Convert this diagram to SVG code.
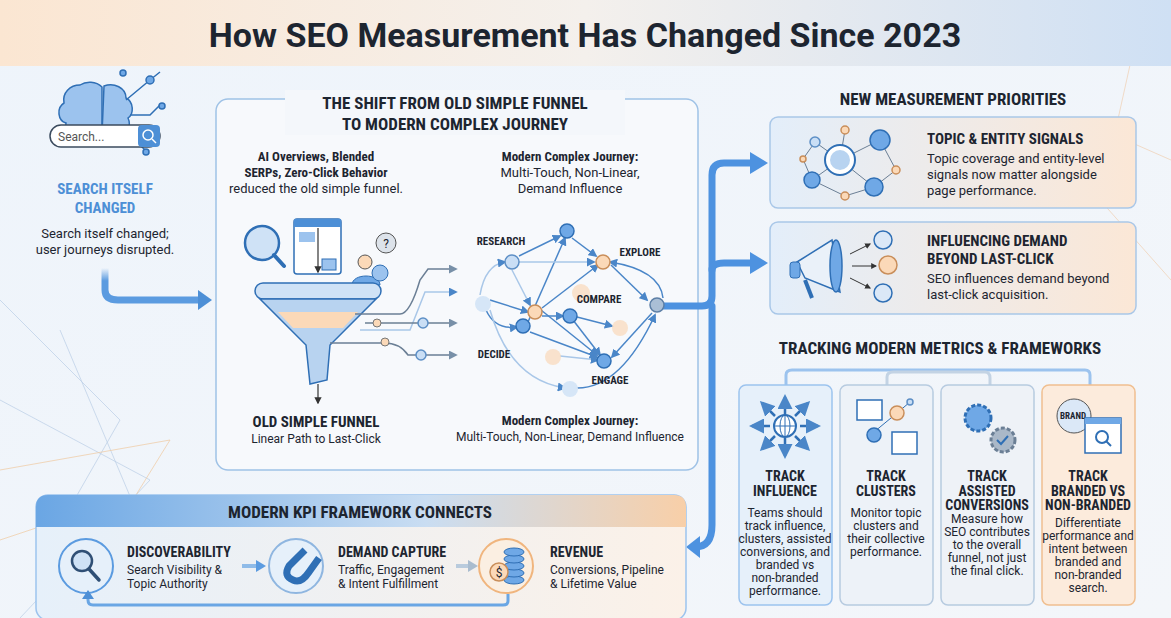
<svg xmlns="http://www.w3.org/2000/svg" width="1171" height="618" viewBox="0 0 1171 618">
<defs>
<linearGradient id="bg" x1="0" y1="0" x2="1" y2="1"><stop offset="0" stop-color="#eef4fb"/><stop offset="1" stop-color="#f3f6fa"/></linearGradient>
<linearGradient id="hdr" x1="0" y1="0" x2="1" y2="0"><stop offset="0" stop-color="#fbe6d2"/><stop offset="0.5" stop-color="#f4f0ec"/><stop offset="1" stop-color="#cfe0f4"/></linearGradient>
<linearGradient id="card" x1="0" y1="0" x2="1" y2="0"><stop offset="0" stop-color="#e3eefa"/><stop offset="1" stop-color="#fbe7d6"/></linearGradient>
<linearGradient id="kpih" x1="0" y1="0" x2="1" y2="0"><stop offset="0" stop-color="#6aa6e4"/><stop offset="0.6" stop-color="#c9ddf2"/><stop offset="1" stop-color="#f8cfa8"/></linearGradient>
<linearGradient id="kpib" x1="0" y1="0" x2="1" y2="0"><stop offset="0" stop-color="#e6f0fa"/><stop offset="1" stop-color="#fbf1e8"/></linearGradient>
<linearGradient id="fadeA" x1="0" y1="0" x2="0" y2="1"><stop offset="0" stop-color="#5b9be0" stop-opacity="0"/><stop offset="0.4" stop-color="#5b9be0"/></linearGradient>
<marker id="ah" viewBox="0 0 10 10" refX="8" refY="5" markerWidth="6" markerHeight="6" orient="auto"><path d="M0,0L10,5L0,10z" fill="#4a86c8"/></marker>
<marker id="ahg" viewBox="0 0 10 10" refX="8" refY="5" markerWidth="6" markerHeight="6" orient="auto"><path d="M0,0L10,5L0,10z" fill="#7890a8"/></marker>
<marker id="ahd" viewBox="0 0 10 10" refX="8" refY="5" markerWidth="6" markerHeight="6" orient="auto"><path d="M0,0L10,5L0,10z" fill="#333"/></marker>
</defs>
<style>
text{font-family:"Roboto","Liberation Sans",sans-serif;fill:#1d2530}
.h{font-weight:700;font-stretch:condensed}
.t{font-size:17px;font-weight:700}
.b{font-size:13px}
.s{font-size:12px}
.c{text-anchor:middle}
.bl{fill:#4d8fd6}
.nb{fill:#6fa8e6;stroke:#2f6fb5;stroke-width:1.5}
.nl{fill:#c9def5;stroke:#5d8fc6;stroke-width:1.5}
.no{fill:#fbd9b8;stroke:#c98e5a;stroke-width:1.5}
.nf{fill:#f9dcc0;opacity:.8}
.ln{stroke:#4a86c8;stroke-width:1.5;fill:none}
.lf{stroke:#a9c7e8;stroke-width:1.5;fill:none}
.big{stroke:#4d92e0;stroke-width:7;fill:none;stroke-linecap:round;stroke-linejoin:round}
.box{fill:#f7f9fc;stroke:#9fc2e6;stroke-width:1.5}
</style>
<rect width="1171" height="618" fill="url(#bg)"/>
<g stroke="#b9cde6" stroke-width="1" fill="none" opacity=".7">
<path d="M0,300L120,420L40,560M0,400L150,480L20,618M60,330L140,520"/>
<path d="M1140,20L1100,200L1171,280M1080,120L1171,160" stroke="#efcfb0"/>
</g>
<g stroke="#f0c9a0" stroke-width="1" fill="none" opacity=".7"><path d="M0,470L170,440L60,618M0,540L120,500"/></g>
<rect width="1171" height="66" fill="url(#hdr)"/>
<text x="585" y="47" class="c" style="font-size:34px;font-weight:700">How SEO Measurement Has Changed Since 2023</text>

<g id="search-changed">
<g stroke="#2f6fb5" stroke-width="1.5" fill="#9cc3ee">
<path d="M80,85c-10,0-18,8-16,18c-8,5-6,18,2,20c-2,10,6,18,16,16c4,8,16,8,20,0l0-52c-6-6-16-6-22-2z"/>
<path d="M104,86c10-4,22,2,22,12c8,4,8,16,2,20c4,8-2,18-12,18c-4,8-14,6-14,-2z"/>
</g>
<g stroke="#2f6fb5" stroke-width="1.5" fill="#6fa8e6"><path d="M126,100L150,80L160,72M130,115L150,115L160,105M125,130L145,150" fill="none"/><circle cx="123" cy="73" r="3"/><circle cx="150" cy="80" r="4"/><circle cx="162" cy="106" r="3"/><circle cx="146" cy="152" r="3"/></g>
<rect x="50" y="125" width="110" height="22" rx="11" fill="#fff" stroke="#3b4b5e" stroke-width="1.5"/>
<rect x="138" y="125" width="22" height="22" rx="4" fill="#4d8fd6"/>
<circle cx="148" cy="135" r="5" fill="none" stroke="#fff" stroke-width="1.5"/><path d="M152,139l4,4" stroke="#fff" stroke-width="1.5"/>
<text x="58" y="141" class="s" style="fill:#555">Search...</text>
<text x="105" y="194" class="c h bl" style="font-size:15px">SEARCH ITSELF</text>
<text x="105" y="213" class="c h bl" style="font-size:15px">CHANGED</text>
<text x="105" y="238" class="c b">Search itself changed;</text>
<text x="105" y="254" class="c b">user journeys disrupted.</text>
</g>

<g id="shift-box">
<rect x="216" y="99" width="482" height="371" rx="12" class="box"/>
<rect x="285" y="90" width="340" height="45" fill="#f4f7fb"/>
<text x="455" y="109" class="c t h">THE SHIFT FROM OLD SIMPLE FUNNEL</text>
<text x="455" y="130" class="c t h">TO MODERN COMPLEX JOURNEY</text>
<text x="316" y="161" class="c h" style="font-size:13px">AI Overviews, Blended</text>
<text x="316" y="177" class="c h" style="font-size:13px">SERPs, Zero-Click Behavior</text>
<text x="316" y="193" class="c b">reduced the old simple funnel.</text>
<text x="570" y="161" class="c h" style="font-size:13px">Modern Complex Journey:</text>
<text x="570" y="177" class="c b">Multi-Touch, Non-Linear,</text>
<text x="570" y="193" class="c b">Demand Influence</text>
</g>

<g id="funnel">
<circle cx="262" cy="243" r="17" fill="#cfe2f6" stroke="#2f6fb5" stroke-width="2.5"/><path d="M274,255l10,11" stroke="#2f6fb5" stroke-width="4" stroke-linecap="round"/>
<rect x="294" y="219" width="47" height="55" rx="3" fill="#fff" stroke="#2f6fb5" stroke-width="1.5"/><rect x="294" y="219" width="47" height="8" fill="#4d8fd6"/>
<rect x="299" y="232" width="16" height="10" fill="#9cc3ee"/><rect x="322" y="259" width="14" height="11" fill="#9cc3ee" stroke="#2f6fb5"/>
<circle cx="365" cy="262" r="7" fill="#fbd9b8" stroke="#555"/><path d="M352,285c0-12,28-12,28,0z" fill="#6fa8e6" stroke="#2f6fb5"/>
<circle cx="380" cy="273" r="8" fill="#9cc3ee" stroke="#2f6fb5"/><circle cx="386" cy="243" r="10" fill="#dde3ea" stroke="#555"/><text x="386" y="248" class="c s">?</text>
<rect x="255" y="283" width="126" height="16" rx="8" fill="#cfe2f6" stroke="#2f6fb5" stroke-width="1.5"/>
<path d="M260,299L376,299L330,345L327,380L310,384L306,345z" fill="#b8d3f0" stroke="#2f6fb5" stroke-width="1.5"/>
<path d="M278,312L358,312L343,328L293,328z" fill="#fbd9b8"/>
<path d="M318,228L318,272" stroke="#333" stroke-width="1.2" marker-end="url(#ahd)"/>
<path d="M318,384L318,403" stroke="#333" stroke-width="1.2" marker-end="url(#ahd)"/>
<text x="316" y="427" class="c h" style="font-size:15px">OLD SIMPLE FUNNEL</text>
<text x="316" y="443" class="c s">Linear Path to Last-Click</text>
</g>

<g id="connectors">
<path d="M105,268L105,290Q105,300 118,300L200,300" stroke="url(#fadeA)" stroke-width="7" fill="none"/>
<path d="M198,290L212,300L198,310z" fill="#4d8fd6"/>
<path d="M355,314L400,314Q410,314 420,280L428,269L456,269" stroke="#6b7f95" stroke-width="1.5" fill="none" marker-end="url(#ahg)"/>
<path d="M360,330L410,330L425,292L456,292" class="lf" marker-end="url(#ah)"/>
<path d="M365,323L456,323" stroke="#6b7f95" stroke-width="1.5" fill="none" marker-end="url(#ahg)"/>
<circle cx="377" cy="323" r="4" fill="#fbd9b8" stroke="#777"/><circle cx="423" cy="323" r="5" class="nl"/>
<path d="M330,343L384,343Q400,343 408,355L456,355" stroke="#6b7f95" stroke-width="1.5" fill="none" marker-end="url(#ahg)"/>
<circle cx="385" cy="342" r="4" fill="#fbd9b8" stroke="#777"/><circle cx="421" cy="355" r="5" class="nl"/>
<path d="M660,306L702,306M702,306Q712,306 712,296L712,175Q712,163 724,163L752,163" class="big"/>
<path d="M712,270Q712,263 724,263L752,263" class="big"/>
<path d="M712,306L712,525Q712,547 695,547" class="big"/>
<path d="M750,152L768,163L750,174z" fill="#4d92e0"/><path d="M750,252L768,263L750,274z" fill="#4d92e0"/>
<path d="M700,536L686,547L700,558z" fill="#4d92e0"/>
</g>

<g id="network">
<g class="ln" marker-end="url(#ah)">
<path d="M519,256L560,236"/><path d="M572,238L596,256"/><path d="M611,265L647,300"/><path d="M490,300L528,312"/><path d="M542,308L598,265"/>
<path d="M542,316L563,316"/><path d="M577,317L612,326"/><path d="M528,322L565,238"/><path d="M530,332L597,357"/><path d="M541,310L597,355"/><path d="M652,313L612,357"/><path d="M486,310Q495,330 517,327"/><path d="M573,320L600,355"/>
<path d="M663,298Q660,270 610,262"/><path d="M575,388Q620,390 655,315"/>
</g>
<g class="lf" marker-end="url(#ah)"><path d="M519,262L594,262"/><path d="M512,270L530,305"/><path d="M480,295Q485,265 505,262"/><path d="M490,310Q510,380 565,388"/><path d="M560,356L598,360"/></g>
<circle cx="512" cy="262" r="7" class="nl"/><circle cx="567" cy="231" r="7" class="nb"/><circle cx="603" cy="262" r="7" class="no"/>
<circle cx="483" cy="304" r="8" fill="#d6e6f7"/><circle cx="535" cy="312" r="7" class="no"/><circle cx="581" cy="293" r="9" class="nf"/>
<circle cx="570" cy="316" r="7" class="nb"/><circle cx="657" cy="305" r="7" fill="#aabfd6" stroke="#5d7fa6" stroke-width="1.5"/>
<circle cx="620" cy="328" r="8" class="nf"/><circle cx="523" cy="326" r="7" class="nb"/><circle cx="553" cy="357" r="8" class="nf"/>
<circle cx="604" cy="361" r="7" class="nb"/><circle cx="570" cy="389" r="8" fill="#d6e6f7"/>
<text x="501" y="245" class="c h" style="font-size:11px">RESEARCH</text>
<text x="640" y="256" class="c h" style="font-size:11px">EXPLORE</text>
<text x="599" y="303" class="c h" style="font-size:11px">COMPARE</text>
<text x="494" y="358" class="c h" style="font-size:11px">DECIDE</text>
<text x="610" y="384" class="c h" style="font-size:11px">ENGAGE</text>
<text x="570" y="425" class="c h" style="font-size:13px">Modern Complex Journey:</text>
<text x="570" y="441" class="c s">Multi-Touch, Non-Linear, Demand Influence</text>
</g>

<g id="priorities">
<text x="953" y="105" class="c t h">NEW MEASUREMENT PRIORITIES</text>
<rect x="770" y="117" width="366" height="91" rx="8" fill="url(#card)" stroke="#a9c7e8" stroke-width="1.5"/>
<g stroke="#6b7f95" stroke-width="1" fill="none"><path d="M815,142L840,160L880,140M840,160L812,180M840,160L874,187L896,170M874,187L845,196L812,180L803,159M840,160L845,130M815,142L803,159M880,140L896,170"/></g>
<circle cx="840" cy="160" r="15" fill="#fff" stroke="#2f6fb5" stroke-width="2"/><circle cx="840" cy="160" r="10" fill="#b8d3f0"/>
<circle cx="880" cy="140" r="10" class="nb"/><circle cx="812" cy="180" r="8" class="nb"/><circle cx="874" cy="187" r="9" class="nb"/><circle cx="815" cy="142" r="5" class="nl"/><circle cx="845" cy="130" r="4" class="no"/><circle cx="896" cy="170" r="4" class="no"/><circle cx="845" cy="196" r="4" class="no"/><circle cx="803" cy="159" r="3" class="no"/>
<text x="927" y="144" class="h" style="font-size:15px">TOPIC &amp; ENTITY SIGNALS</text>
<text x="927" y="163" class="b">Topic coverage and entity-level</text>
<text x="927" y="179" class="b">signals now matter alongside</text>
<text x="927" y="195" class="b">page performance.</text>
<rect x="770" y="222" width="366" height="92" rx="8" fill="url(#card)" stroke="#a9c7e8" stroke-width="1.5"/>
<path d="M797,262L832,240L840,292L805,278z" fill="#eaf1f9" stroke="#2f6fb5" stroke-width="1.5"/>
<ellipse cx="836" cy="266" rx="6" ry="26" fill="#6fa8e6" stroke="#2f6fb5" stroke-width="1.5"/>
<rect x="790" y="262" width="10" height="16" rx="3" fill="#6fa8e6" stroke="#2f6fb5"/><path d="M805,280L812,298" stroke="#2f6fb5" stroke-width="4"/>
<g stroke="#333" stroke-width="1" marker-end="url(#ahd)"><path d="M850,254L870,244"/><path d="M852,266L876,266"/><path d="M850,278L870,288"/></g>
<circle cx="883" cy="240" r="9" fill="#dbe8f7" stroke="#2f6fb5" stroke-width="1.5"/><circle cx="888" cy="265" r="9" fill="#fbd9b8" stroke="#c98e5a" stroke-width="1.5"/><circle cx="883" cy="293" r="9" fill="#dbe8f7" stroke="#2f6fb5" stroke-width="1.5"/>
<text x="927" y="246" class="h" style="font-size:15px">INFLUENCING DEMAND</text>
<text x="927" y="264" class="h" style="font-size:15px">BEYOND LAST-CLICK</text>
<text x="927" y="283" class="b">SEO influences demand beyond</text>
<text x="927" y="299" class="b">last-click acquisition.</text>
</g>

<g id="tracking">
<text x="940" y="354" class="c t h">TRACKING MODERN METRICS &amp; FRAMEWORKS</text>
<path d="M786,385L786,375Q786,370 792,370L1085,370Q1090,370 1090,375L1090,385" stroke="#9cc3ee" stroke-width="3" fill="none"/>
<path d="M887,385L887,377Q887,372 893,372L985,372Q990,372 990,378L990,385" stroke="#c3d3e4" stroke-width="3" fill="none"/>
<rect x="739" y="385" width="93" height="220" rx="7" fill="#e6f0fa" stroke="#9cc3ee" stroke-width="1.5"/>
<rect x="840" y="385" width="93" height="220" rx="7" fill="#edf2f8" stroke="#b7cbe0" stroke-width="1.5"/>
<rect x="941" y="385" width="93" height="220" rx="7" fill="#eef2f7" stroke="#b7cbe0" stroke-width="1.5"/>
<rect x="1042" y="385" width="93" height="220" rx="7" fill="#fcebdc" stroke="#f0bf90" stroke-width="1.5"/>
<g stroke="#2f6fb5" stroke-width="2.5" marker-end="url(#ah)"><path d="M785,415L785,397"/><path d="M785,438L785,456"/><path d="M770,426L752,426"/><path d="M800,426L818,426"/><path d="M775,416L762,403"/><path d="M795,416L808,403"/><path d="M775,436L762,449"/><path d="M795,436L808,449"/></g>
<circle cx="785" cy="426" r="11" fill="#fff" stroke="#2f6fb5" stroke-width="2"/><path d="M774,426h22M785,415v22" stroke="#2f6fb5"/><ellipse cx="785" cy="426" rx="5" ry="11" fill="none" stroke="#2f6fb5"/>
<rect x="857" y="400" width="25" height="20" fill="#fff" stroke="#2f6fb5" stroke-width="1.5"/><rect x="892" y="432" width="25" height="22" fill="#fff" stroke="#2f6fb5" stroke-width="1.5"/>
<path d="M874,432L897,413L910,402" stroke="#2f6fb5" fill="none"/><circle cx="897" cy="413" r="7" class="no"/><circle cx="874" cy="435" r="7" class="nb"/><circle cx="910" cy="402" r="3" class="nl"/>
<circle cx="978" cy="418" r="13" fill="#6fa8e6" stroke="#2f6fb5" stroke-width="3" stroke-dasharray="4 2"/><circle cx="1003" cy="440" r="12" fill="#aab8c8" stroke="#6b7f95" stroke-width="3" stroke-dasharray="4 2"/>
<path d="M997,440l4,4l7,-8" stroke="#2f6fb5" stroke-width="2" fill="none"/>
<circle cx="1074" cy="416" r="17" fill="#dbe8f7" stroke="#555"/><text x="1073" y="419" class="c h" style="font-size:9px">BRAND</text>
<rect x="1085" y="418" width="36" height="35" fill="#fff" stroke="#2f6fb5" stroke-width="1.5"/><rect x="1085" y="418" width="36" height="6" fill="#6fa8e6"/>
<circle cx="1102" cy="437" r="6" fill="none" stroke="#2f6fb5" stroke-width="2"/><path d="M1106,441l5,5" stroke="#2f6fb5" stroke-width="2"/>
<g style="font-size:14px">
<text x="785" y="481" class="c h">TRACK</text><text x="785" y="496" class="c h">INFLUENCE</text>
<text x="886" y="481" class="c h">TRACK</text><text x="886" y="496" class="c h">CLUSTERS</text>
<text x="987" y="481" class="c h">TRACK</text><text x="987" y="496" class="c h">ASSISTED</text><text x="987" y="510" class="c h">CONVERSIONS</text>
<text x="1088" y="481" class="c h">TRACK</text><text x="1088" y="496" class="c h">BRANDED VS</text><text x="1088" y="510" class="c h">NON-BRANDED</text>
</g>
<g>
<text x="785" y="517" class="c s">Teams should</text><text x="785" y="530" class="c s">track influence,</text><text x="785" y="543" class="c s">clusters, assisted</text><text x="785" y="556" class="c s">conversions, and</text><text x="785" y="569" class="c s">branded vs</text><text x="785" y="582" class="c s">non-branded</text><text x="785" y="595" class="c s">performance.</text>
<text x="886" y="517" class="c s">Monitor topic</text><text x="886" y="530" class="c s">clusters and</text><text x="886" y="543" class="c s">their collective</text><text x="886" y="556" class="c s">performance.</text>
<text x="987" y="523" class="c s">Measure how</text><text x="987" y="536" class="c s">SEO contributes</text><text x="987" y="549" class="c s">to the overall</text><text x="987" y="562" class="c s">funnel, not just</text><text x="987" y="575" class="c s">the final click.</text>
<text x="1088" y="527" class="c s">Differentiate</text><text x="1088" y="540" class="c s">performance and</text><text x="1088" y="553" class="c s">intent between</text><text x="1088" y="566" class="c s">branded and</text><text x="1088" y="579" class="c s">non-branded</text><text x="1088" y="592" class="c s">search.</text>
</g>
</g>

<g id="kpi">
<rect x="36" y="495" width="650" height="125" rx="12" fill="url(#kpib)" stroke="#9cc3ee" stroke-width="1.5"/>
<path d="M48,495L674,495Q686,495 686,507L686,527L36,527L36,507Q36,495 48,495z" fill="url(#kpih)"/>
<text x="360" y="518" class="c t h">MODERN KPI FRAMEWORK CONNECTS</text>
<circle cx="86" cy="566" r="27" fill="#e6f0fa" stroke="#5b9be0" stroke-width="2"/>
<circle cx="82" cy="561" r="10" fill="#cfe2f6" stroke="#2f4f75" stroke-width="2.5"/><path d="M89,569l10,11" stroke="#2f4f75" stroke-width="3.5" stroke-linecap="round"/>
<circle cx="296" cy="566" r="27" fill="#e6f0fa" stroke="#8fb6e0" stroke-width="2"/>
<path d="M305,550L289,566Q283,576 293,580Q301,584 309,572L319,558" stroke="#2f6fb5" stroke-width="7" fill="none"/>
<circle cx="506" cy="566" r="27" fill="#fbefe2" stroke="#f0b57e" stroke-width="2"/>
<g fill="#6fa8e6" stroke="#2f6fb5"><ellipse cx="514" cy="580" rx="10" ry="4"/><ellipse cx="514" cy="573" rx="10" ry="4"/><ellipse cx="514" cy="566" rx="10" ry="4"/><ellipse cx="514" cy="559" rx="10" ry="4"/><ellipse cx="514" cy="552" rx="10" ry="4"/></g>
<circle cx="499" cy="572" r="9" fill="#fbd9b8" stroke="#c98e5a" stroke-width="1.5"/><text x="499" y="577" class="c s">$</text>
<text x="127" y="557" class="h" style="font-size:14px">DISCOVERABILITY</text>
<text x="127" y="574" class="s">Search Visibility &amp;</text><text x="127" y="588" class="s">Topic Authority</text>
<text x="338" y="557" class="h" style="font-size:14px">DEMAND CAPTURE</text>
<text x="338" y="574" class="s">Traffic, Engagement</text><text x="338" y="588" class="s">&amp; Intent Fulfillment</text>
<text x="550" y="557" class="h" style="font-size:14px">REVENUE</text>
<text x="550" y="574" class="s">Conversions, Pipeline</text><text x="550" y="588" class="s">&amp; Lifetime Value</text>
<path d="M242,566L258,566" stroke="#8fbbe8" stroke-width="4"/><path d="M256,560L266,566L256,572z" fill="#5b9be0"/>
<path d="M456,566L470,566" stroke="#b9cbdd" stroke-width="4"/><path d="M468,560L478,566L468,572z" fill="#a9bccf"/>
<path d="M508,594L508,601Q508,605 503,605L93,605Q88,605 88,600L88,597" stroke="#6aa6e4" stroke-width="3" fill="none"/>
<path d="M82,599L88,590L94,599z" fill="#4d8fd6"/>
</g>
</svg>
